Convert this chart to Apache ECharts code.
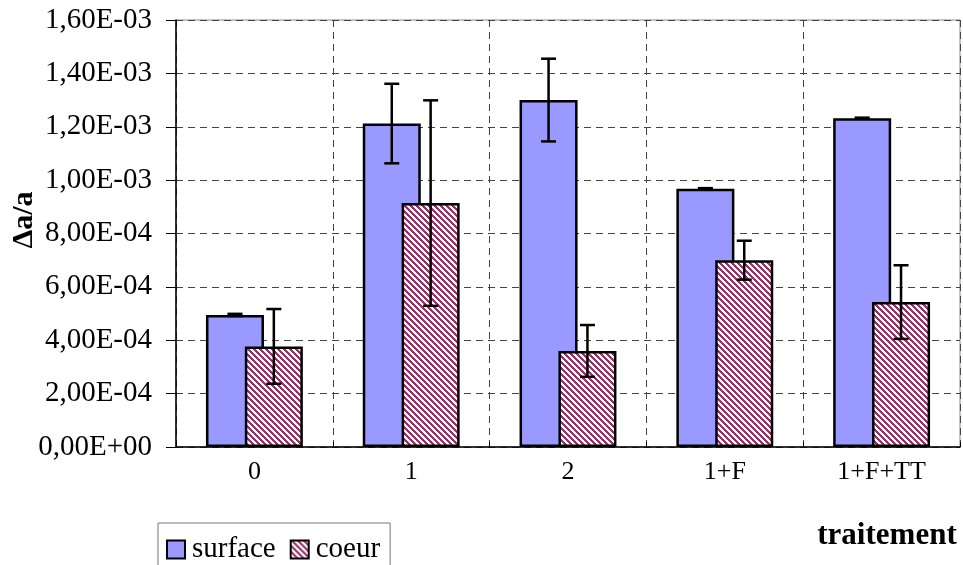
<!DOCTYPE html>
<html>
<head>
<meta charset="utf-8">
<script src="https://cdn.jsdelivr.net/npm/echarts@6/dist/echarts.min.js"></script>
<style>
html,body{margin:0;padding:0;background:#fff;}
#chart{width:963px;height:565px;}
</style>
</head>
<body>
<div id="chart"></div>
<script>
var categories = ['0', '1', '2', '1+F', '1+F+TT'];
var surface = [4.95e-4, 1.212e-3, 1.300e-3, 9.68e-4, 1.232e-3];
var surfaceErr = [4e-6, 1.49e-4, 1.55e-4, 2e-6, 2e-6];
var coeur = [3.77e-4, 9.14e-4, 3.60e-4, 7.00e-4, 5.43e-4];
var coeurErr = [1.40e-4, 3.85e-4, 9.7e-5, 7.3e-5, 1.38e-4];
var yTicks = { min: 0, max: 1.6e-3, interval: 2e-4 };

function hatch() {
  var s = 6, c = document.createElement('canvas');
  c.width = s; c.height = s;
  var ctx = c.getContext('2d');
  var img = ctx.createImageData(s, s);
  for (var y = 0; y < s; y++) {
    for (var x = 0; x < s; x++) {
      var i = (y * s + x) * 4;
      var on = ((x - y + s * 2) % s) < 3;
      img.data[i] = on ? 0x99 : 255;
      img.data[i + 1] = on ? 0x33 : 255;
      img.data[i + 2] = on ? 0x66 : 255;
      img.data[i + 3] = 255;
    }
  }
  ctx.putImageData(img, 0, 0);
  return c;
}

function fmt(v) {
  var s = Number(v).toExponential(2);
  var p = s.split('e');
  var m = p[0].replace('.', ',');
  var e = parseInt(p[1], 10);
  var sign = e < 0 ? '-' : '+';
  var a = Math.abs(e);
  return m + 'E' + sign + (a < 10 ? '0' + a : '' + a);
}

var BAR_FRAC = 0.37, GAP = -0.33;
function errSeries(name, vals, errs, side) {
  return {
    type: 'custom',
    name: name + '_err',
    z: 10,
    silent: true,
    data: vals.map(function (v, i) { return [i, v, errs[i]]; }),
    renderItem: function (params, api) {
      var i = api.value(0), v = api.value(1), e = api.value(2);
      var band = api.size([1, 0])[0];
      var w = band * BAR_FRAC;
      var off = side * (w * (2 + GAP)) / 2 - side * w / 2;
      var cx = api.coord([i, v])[0] + off;
      var top = api.coord([i, v + e])[1];
      var bot = api.coord([i, v - e])[1];
      var half = 7.5;
      var st = { stroke: '#000', lineWidth: 2.5 };
      return {
        type: 'group',
        children: [
          { type: 'line', shape: { x1: cx, y1: top, x2: cx, y2: bot }, style: st },
          { type: 'line', shape: { x1: cx - half, y1: top, x2: cx + half, y2: top }, style: st },
          { type: 'line', shape: { x1: cx - half, y1: bot, x2: cx + half, y2: bot }, style: st }
        ]
      };
    }
  };
}

var chart = echarts.init(document.getElementById('chart'), null, { renderer: 'canvas' });
var serif = '"Liberation Serif", "Times New Roman", serif';
var dash = { color: '#444', width: 1, type: [7, 5] };

chart.setOption({
  animation: false,
  backgroundColor: '#fff',
  textStyle: { fontFamily: serif },
  grid: { left: 176, right: 3, top: 20, bottom: 118, show: true, borderColor: '#888', borderWidth: 1 },
  legend: {
    data: [{ name: 'surface', icon: 'rect' }, { name: 'coeur', icon: 'rect' }],
    left: 158, top: 523,
    orient: 'horizontal',
    itemWidth: 18, itemHeight: 18, itemGap: 14,
    padding: [12, 10, 12, 8],
    borderColor: '#777', borderWidth: 1,
    backgroundColor: '#fff',
    itemStyle: { borderColor: '#000', borderWidth: 2 },
    textStyle: { fontFamily: serif, fontSize: 29, color: '#000', padding: [0, 0, 0, 2] }
  },
  xAxis: {
    type: 'category',
    data: categories,
    boundaryGap: true,
    axisLine: { lineStyle: { color: '#000', width: 1.5 } },
    axisTick: { show: true, inside: true, length: 5, lineStyle: { color: '#000' } },
    splitLine: { show: true, lineStyle: dash },
    axisLabel: { color: '#000', fontSize: 26, fontFamily: serif, margin: 12 }
  },
  yAxis: {
    type: 'value',
    min: yTicks.min, max: yTicks.max, interval: yTicks.interval,
    axisLine: { show: true, lineStyle: { color: '#000', width: 1.5 } },
    axisTick: { show: true, length: 10, lineStyle: { color: '#000' } },
    splitLine: { show: true, lineStyle: dash },
    axisLabel: { color: '#000', fontSize: 29, fontFamily: serif, margin: 24, formatter: fmt }
  },
  graphic: [
    { type: 'text', x: 24, y: 220, rotation: Math.PI / 2,
      style: { text: 'Δa/a', font: 'bold 30px ' + serif, fill: '#000', align: 'center', verticalAlign: 'middle' } },
    { type: 'text', x: 887, y: 536,
      style: { text: 'traitement', font: 'bold 31px ' + serif, fill: '#000', align: 'center', verticalAlign: 'middle' } }
  ],
  series: [
    { name: 'surface', type: 'bar', data: surface, barWidth: '37%', barGap: '-33%',
      itemStyle: { color: '#9999FF', borderColor: '#000', borderWidth: 2.5 } },
    { name: 'coeur', type: 'bar', data: coeur, barWidth: '37%', barGap: '-33%',
      itemStyle: { color: { image: hatch(), repeat: 'repeat' }, borderColor: '#000', borderWidth: 2.5 } },
    errSeries('surface', surface, surfaceErr, -1),
    errSeries('coeur', coeur, coeurErr, 1)
  ]
});
</script>
</body>
</html>
